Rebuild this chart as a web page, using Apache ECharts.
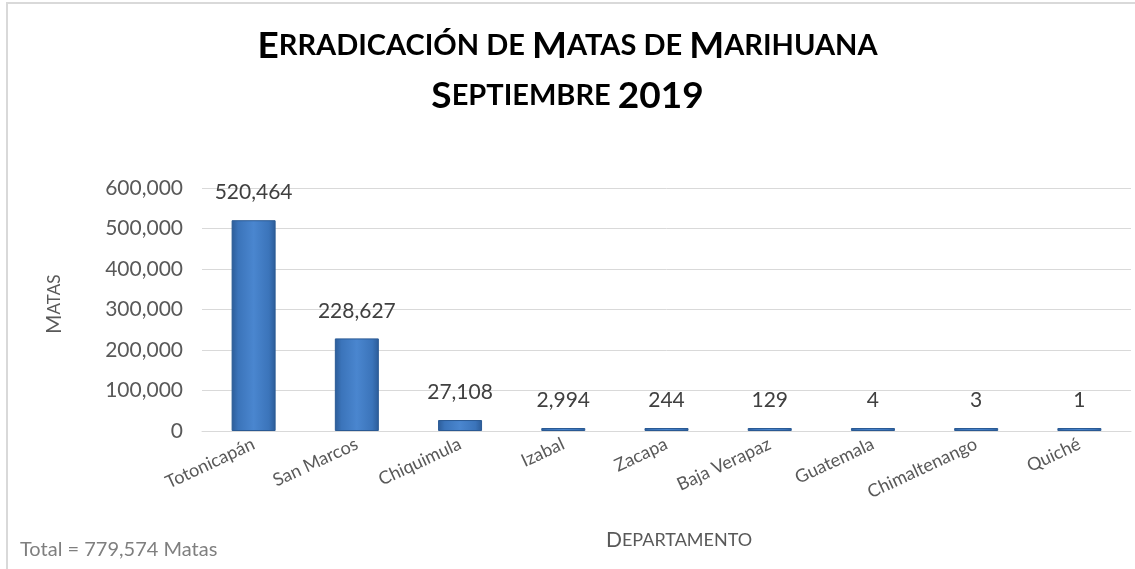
<!DOCTYPE html>
<html>
<head>
<meta charset="utf-8">
<script src="https://cdn.jsdelivr.net/npm/echarts@6/dist/echarts.min.js"></script>
<style>
  html, body { margin: 0; padding: 0; background: #fff; }
  #chart { width: 1135px; height: 569px; }
</style>
</head>
<body>
<div id="chart"></div>
<script>
const departamentos = ['Totonicapán', 'San Marcos', 'Chiquimula', 'Izabal', 'Zacapa', 'Baja Verapaz', 'Guatemala', 'Chimaltenango', 'Quiché']
const matas = [520464, 228627, 27108, 2994, 244, 129, 4, 3, 1]
const yTicks = [0, 100000, 200000, 300000, 400000, 500000, 600000]
const totalMatas = 779574

const font = 'Lato, "Open Sans", sans-serif'
const grey = '#595959'
const fmt = (v) => v.toLocaleString('en-US')

const chart = echarts.init(document.getElementById('chart'))

// small caps done by hand: big first letters, smaller upper-case rest
const big = { fontSize: 37, fontWeight: 'bold', fontFamily: font, color: '#000' }
const small = { fontSize: 29, fontWeight: 'bold', fontFamily: font, color: '#000' }

const option = {
  backgroundColor: '#fff',
  animation: false,
  title: {
    left: 'center',
    top: 16,
    text: '{b|E}{s|RRADICACIÓN DE }{b|M}{s|ATAS DE }{b|M}{s|ARIHUANA}\n{b|S}{s|EPTIEMBRE }{b|2019}',
    textStyle: {
      rich: {
        b: Object.assign({ lineHeight: 50 }, big),
        s: Object.assign({ lineHeight: 50 }, small)
      }
    }
  },
  grid: { left: 202, right: 4, top: 188, bottom: 138 },
  xAxis: {
    type: 'category',
    data: departamentos,
    axisLine: { lineStyle: { color: '#d9d9d9' } },
    axisTick: { show: false },
    axisLabel: {
      rotate: 25,
      margin: 12,
      color: grey,
      fontSize: 18,
      fontFamily: font,
      interval: 0
    }
  },
  yAxis: {
    type: 'value',
    min: yTicks[0],
    max: yTicks[yTicks.length - 1],
    interval: yTicks[1] - yTicks[0],
    axisLine: { show: false },
    axisTick: { show: false },
    splitLine: { lineStyle: { color: '#d9d9d9' } },
    axisLabel: {
      margin: 19,
      color: grey,
      fontSize: 21,
      fontFamily: font,
      formatter: fmt
    }
  },
  graphic: [
    {
      type: 'line',
      shape: { x1: 6, y1: 3, x2: 1135, y2: 3 },
      style: { stroke: '#d9d9d9', lineWidth: 2 }
    },
    {
      type: 'line',
      shape: { x1: 7, y1: 3, x2: 7, y2: 569 },
      style: { stroke: '#d9d9d9', lineWidth: 2 }
    },
    {
      type: 'text',
      x: 44,
      y: 334,
      rotation: Math.PI / 2,
      style: {
        text: '{b|M}{s|ATAS}',
        rich: {
          b: { fontSize: 21, fontFamily: font, fill: grey },
          s: { fontSize: 17, fontFamily: font, fill: grey }
        }
      }
    },
    {
      type: 'text',
      left: 606,
      top: 530,
      style: {
        text: '{b|D}{s|EPARTAMENTO}',
        rich: {
          b: { fontSize: 21, fontFamily: font, fill: grey },
          s: { fontSize: 18, fontFamily: font, fill: grey }
        }
      }
    },
    {
      type: 'text',
      left: 20,
      top: 540,
      style: {
        text: 'Total = ' + fmt(totalMatas) + ' Matas',
        fontSize: 20,
        fontFamily: font,
        fill: '#7f7f7f'
      }
    }
  ],
  series: [
    {
      type: 'bar',
      data: matas,
      barWidth: 44,
      barMinHeight: 3,
      itemStyle: {
        borderColor: '#2a5a94',
        borderWidth: 1,
        color: new echarts.graphic.LinearGradient(0, 0, 1, 0, [
          { offset: 0, color: '#2c5c98' },
          { offset: 0.15, color: '#3b74ba' },
          { offset: 0.5, color: '#4a86cf' },
          { offset: 0.85, color: '#3b74ba' },
          { offset: 1, color: '#2c5c98' }
        ])
      },
      label: {
        show: true,
        position: 'top',
        distance: 17,
        color: '#404040',
        fontSize: 21,
        fontFamily: font,
        formatter: (p) => fmt(p.value)
      }
    }
  ]
}

chart.setOption(option)
</script>
</body>
</html>
